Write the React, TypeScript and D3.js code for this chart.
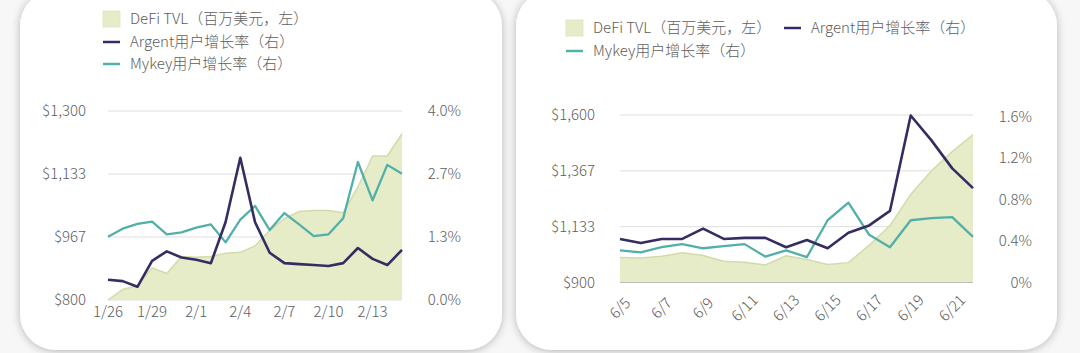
import React from "react";
import * as d3 from "d3";

// ---------- Left chart data ----------
const leftDates = ["1/26","1/27","1/28","1/29","1/30","1/31","2/1","2/2","2/3","2/4","2/5","2/6","2/7","2/8","2/9","2/10","2/11","2/12","2/13","2/14","2/15"];
const leftTvl = [800,828,838,885,870,915,913,915,924,926,943,984,1015,1034,1037,1037,1031,1099,1181,1181,1240];
const leftArgent = [0.43,0.40,0.28,0.83,1.03,0.90,0.85,0.78,1.65,3.01,1.65,1.00,0.78,0.76,0.74,0.72,0.78,1.10,0.87,0.74,1.06];
const leftMykey = [1.34,1.51,1.61,1.66,1.39,1.43,1.53,1.60,1.22,1.70,1.99,1.48,1.84,1.60,1.35,1.39,1.73,2.92,2.11,2.86,2.67];
const leftXLabels = ["1/26","1/29","2/1","2/4","2/7","2/10","2/13"];
const leftYTicks = [800, 966.67, 1133.33, 1300];
const leftYLabels = ["$800","$967","$1,133","$1,300"];
const leftRTicks = [0, 1.3333, 2.6667, 4.0];
const leftRLabels = ["0.0%","1.3%","2.7%","4.0%"];

// ---------- Right chart data ----------
const rightDates = ["6/5","6/6","6/7","6/8","6/9","6/10","6/11","6/12","6/13","6/14","6/15","6/16","6/17","6/18","6/19","6/20","6/21","6/22"];
const rightTvl = [1005,1002,1010,1024,1013,989,985,973,1012,996,975,983,1056,1138,1268,1367,1447,1518];
const rightArgent = [0.42,0.38,0.42,0.42,0.52,0.42,0.43,0.43,0.34,0.41,0.33,0.48,0.55,0.69,1.61,1.37,1.10,0.91];
const rightMykey = [0.31,0.29,0.34,0.37,0.33,0.35,0.37,0.25,0.31,0.245,0.60,0.77,0.46,0.34,0.60,0.62,0.63,0.44];
const rightXLabels = ["6/5","6/7","6/9","6/11","6/13","6/15","6/17","6/19","6/21"];
const rightYTicks = [900, 1133.33, 1366.67, 1600];
const rightYLabels = ["$900","$1,133","$1,367","$1,600"];
const rightRTicks = [0, 0.4, 0.8, 1.2, 1.6];
const rightRLabels = ["0%","0.4%","0.8%","1.2%","1.6%"];

const legendTvl = "DeFi TVL（百万美元，左）";
const legendArgent = "Argent用户增长率（右）";
const legendMykey = "Mykey用户增长率（右）";

const FONT = "'Noto Sans CJK SC', 'Noto Sans', sans-serif";
const TEXT = "#5e5e5e";
const WEIGHT = 300;
const AREA_FILL = "#e6ebc8";
const AREA_EDGE = "#d3dbab";
const ARGENT = "#332d63";
const MYKEY = "#52b0a8";
const GRID = "#dedede";

type PanelProps = {
  dates: string[];
  tvl: number[];
  argent: number[];
  mykey: number[];
  xLabels: string[];
  yTicks: number[];
  yLabels: string[];
  rTicks: number[];
  rLabels: string[];
  x0: number; x1: number;
  yTop: number; yBottom: number; rTop: number;
  lDomain: [number, number];
  rDomain: [number, number];
  leftLabelX: number;
  rightLabelX: number;
  rotated: boolean;
  xLabelY: number;
  baseline: boolean;
};

function Panel(p: PanelProps) {
  const x = d3.scalePoint<string>().domain(p.dates).range([p.x0, p.x1]);
  const yL = d3.scaleLinear().domain(p.lDomain).range([p.yBottom, p.yTop]);
  const yR = d3.scaleLinear().domain(p.rDomain).range([p.yBottom, p.rTop]);
  const area = d3.area<number>()
    .x((_, i) => x(p.dates[i]) as number)
    .y0(p.yBottom)
    .y1((d) => yL(d));
  const edge = d3.line<number>()
    .x((_, i) => x(p.dates[i]) as number)
    .y((d) => yL(d));
  const lineR = d3.line<number>()
    .x((_, i) => x(p.dates[i]) as number)
    .y((d) => yR(d));
  return (
    <g>
      {p.yTicks.map((t) => (
        <line key={"g" + t} x1={p.x0} x2={p.x1} y1={yL(t)} y2={yL(t)} stroke={GRID} strokeWidth={1} />
      ))}
      <path d={area(p.tvl) || ""} fill={AREA_FILL} />
      <path d={edge(p.tvl) || ""} fill="none" stroke={AREA_EDGE} strokeWidth={1.5} />
      {p.baseline && (
        <line x1={p.x0} x2={p.x1} y1={p.yBottom} y2={p.yBottom} stroke="#bdbdbd" strokeWidth={1.2} />
      )}
      <path d={lineR(p.mykey) || ""} fill="none" stroke={MYKEY} strokeWidth={2.3} strokeLinejoin="round" />
      <path d={lineR(p.argent) || ""} fill="none" stroke={ARGENT} strokeWidth={2.6} strokeLinejoin="round" />
      {p.yTicks.map((t, i) => (
        <text key={"l" + t} x={p.leftLabelX} y={yL(t)} dy="0.35em" textAnchor="end" fontSize={15} fontWeight={WEIGHT} fill={TEXT} fontFamily={FONT}>{p.yLabels[i]}</text>
      ))}
      {p.rTicks.map((t, i) => (
        <text key={"r" + t} x={p.rightLabelX} y={yR(t)} dy="0.35em" textAnchor="end" fontSize={15} fontWeight={WEIGHT} fill={TEXT} fontFamily={FONT}>{p.rLabels[i]}</text>
      ))}
      {p.xLabels.map((d) => (
        p.rotated ? (
          <text key={"x" + d} transform={`translate(${x(d)},${p.xLabelY}) rotate(-45)`} dy="0.35em" textAnchor="middle" fontSize={15} fontWeight={WEIGHT} fill={TEXT} fontFamily={FONT}>{d}</text>
        ) : (
          <text key={"x" + d} x={x(d)} y={p.xLabelY} dy="0.35em" textAnchor="middle" fontSize={15} fontWeight={WEIGHT} fill={TEXT} fontFamily={FONT}>{d}</text>
        )
      ))}
    </g>
  );
}

function LegendItem({ x, y, kind, label }: { x: number; y: number; kind: "area" | "argent" | "mykey"; label: string }) {
  return (
    <g>
      {kind === "area" ? (
        <rect x={x} y={y - 8} width={17} height={16} fill={AREA_FILL} stroke="#dfe5bd" strokeWidth={0.8} />
      ) : (
        <line x1={x} x2={x + 17} y1={y} y2={y} stroke={kind === "argent" ? ARGENT : MYKEY} strokeWidth={2.5} />
      )}
      <text x={x + 27} y={y} dy="0.35em" fontSize={15} fontWeight={WEIGHT} fill={TEXT} fontFamily={FONT}>{label}</text>
    </g>
  );
}

export default function App() {
  return (
    <svg width={1080} height={353} style={{ position: "absolute", left: 0, top: 0, display: "block" }}>
      <defs>
        <filter id="shadow" x="-10%" y="-10%" width="120%" height="120%">
          <feDropShadow dx={0} dy={1} stdDeviation={4} floodColor="#000" floodOpacity={0.28} />
        </filter>
      </defs>
      <rect x={0} y={0} width={1080} height={353} fill="#f7f7f7" />
      <rect x={20} y={-10} width={482} height={360} rx={36} ry={36} fill="#ffffff" filter="url(#shadow)" />
      <rect x={516} y={-10} width={541} height={360} rx={36} ry={36} fill="#ffffff" filter="url(#shadow)" />

      <LegendItem x={103} y={19} kind="area" label={legendTvl} />
      <LegendItem x={103} y={42} kind="argent" label={legendArgent} />
      <LegendItem x={103} y={64} kind="mykey" label={legendMykey} />

      <LegendItem x={566} y={28} kind="area" label={legendTvl} />
      <LegendItem x={784} y={28} kind="argent" label={legendArgent} />
      <LegendItem x={566} y={51} kind="mykey" label={legendMykey} />

      <Panel
        dates={leftDates} tvl={leftTvl} argent={leftArgent} mykey={leftMykey}
        xLabels={leftXLabels} yTicks={leftYTicks} yLabels={leftYLabels}
        rTicks={leftRTicks} rLabels={leftRLabels}
        x0={108} x1={402} yTop={111} yBottom={300} rTop={111}
        lDomain={[800, 1300]} rDomain={[0, 4]}
        leftLabelX={86} rightLabelX={461} rotated={false} xLabelY={312} baseline={false}
      />
      <Panel
        dates={rightDates} tvl={rightTvl} argent={rightArgent} mykey={rightMykey}
        xLabels={rightXLabels} yTicks={rightYTicks} yLabels={rightYLabels}
        rTicks={rightRTicks} rLabels={rightRLabels}
        x0={620} x1={973} yTop={115} yBottom={282.5} rTop={116.5}
        lDomain={[900, 1600]} rDomain={[0, 1.6]}
        leftLabelX={595} rightLabelX={1032} rotated={true} xLabelY={308} baseline={true}
      />
    </svg>
  );
}
